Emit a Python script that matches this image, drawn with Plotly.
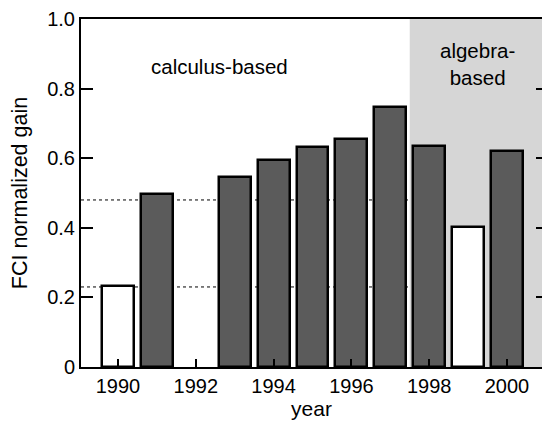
import plotly.graph_objects as go

# ---- data ----
years = [1990, 1991, 1993, 1994, 1995, 1996, 1997, 1998, 1999, 2000]
gains = [0.232, 0.498, 0.545, 0.595, 0.633, 0.655, 0.746, 0.634, 0.402, 0.621]
course = ["trad", "calc", "calc", "calc", "calc", "calc", "calc", "alg", "trad", "alg"]
ref_levels = [0.23, 0.48]
ytick_vals = [0, 0.2, 0.4, 0.6, 0.8, 1.0]
ytick_text = ["0", "0.2", "0.4", "0.6", "0.8", "1.0"]
xtick_vals = [1990, 1992, 1994, 1996, 1998, 2000]
algebra_start = 1997.5
x_range = [1989.05, 2000.9]

FONT = "Liberation Sans, Arial, Helvetica, sans-serif"
fills = ["white" if c == "trad" else "#5b5b5b" for c in course]

fig = go.Figure()
fig.add_trace(go.Bar(
    x=years, y=gains, width=0.82,
    marker=dict(color=fills, line=dict(color="black", width=2.5)),
    showlegend=False, hoverinfo="x+y",
))
# invisible trace to anchor the right-hand tick axis
fig.add_trace(go.Scatter(x=[None], y=[None], yaxis="y2", showlegend=False,
                         hoverinfo="skip"))

shapes = [dict(type="rect", xref="x", yref="y", x0=algebra_start, x1=x_range[1],
               y0=0, y1=1.0, fillcolor="#d6d6d6", line=dict(width=0), layer="below")]
for lv in ref_levels:
    shapes.append(dict(type="line", xref="paper", yref="y", x0=0, x1=1, y0=lv, y1=lv,
                       line=dict(color="black", width=1, dash="dot"), layer="below"))

fig.update_layout(
    width=542, height=423,
    margin=dict(l=81, r=0, t=19, b=56),
    paper_bgcolor="white", plot_bgcolor="white",
    font=dict(family=FONT, size=20, color="black"),
    bargap=0,
    shapes=shapes,
    xaxis=dict(range=x_range, tickvals=xtick_vals, ticks="inside", ticklen=8,
               tickwidth=2, tickcolor="black", showline=True, linewidth=2,
               linecolor="black", mirror=True, showgrid=False, zeroline=False,
               automargin=False, tickfont=dict(size=20, family=FONT),
               title=dict(text="year", font=dict(size=21, family=FONT), standoff=0)),
    yaxis=dict(range=[0, 1.0], tickvals=ytick_vals, ticktext=ytick_text,
               ticks="inside", ticklen=12, tickwidth=2, tickcolor="black",
               showline=True, linewidth=2, linecolor="black", showgrid=False,
               zeroline=False, automargin=False, tickfont=dict(size=20, family=FONT),
               title=dict(text="FCI normalized gain", font=dict(size=21.5, family=FONT),
                          standoff=14)),
    yaxis2=dict(range=[0, 1.0], tickvals=ytick_vals, overlaying="y", side="right",
                ticks="inside", ticklen=6, tickwidth=2, tickcolor="black",
                showticklabels=False, showline=False, showgrid=False, zeroline=False,
                automargin=False),
    annotations=[
        dict(text="calculus-based", x=1992.6, y=0.864, xref="x", yref="y",
             showarrow=False, font=dict(size=20.5, family=FONT)),
        dict(text="algebra-<br>based", x=1999.25, y=0.87, xref="x", yref="y",
             showarrow=False, font=dict(size=20.5, family=FONT)),
    ],
)

fig.write_html("out.html", config={"displayModeBar": False},
               post_script="document.body.style.margin='0';")
